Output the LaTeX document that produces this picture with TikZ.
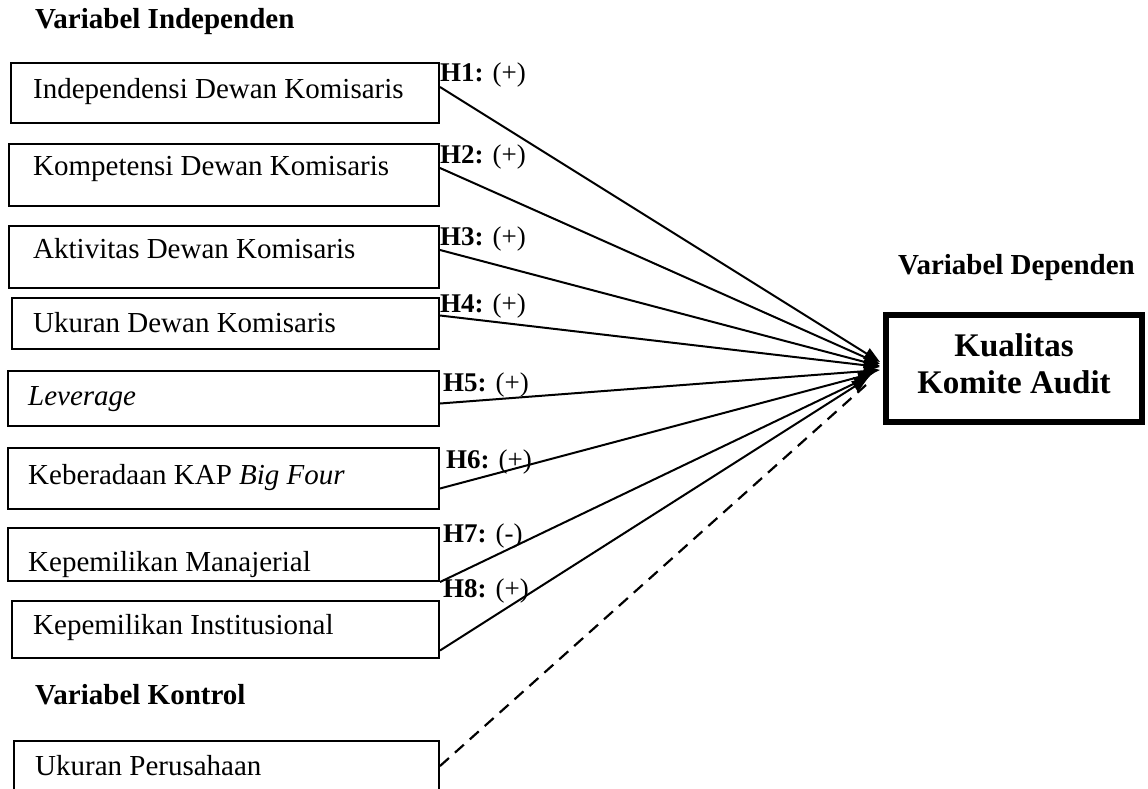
\documentclass[tikz,border=0pt]{standalone}
\usepackage{fontspec}
\setmainfont{Liberation Serif}
\usetikzlibrary{arrows.meta,calc}
\begin{document}
\begin{tikzpicture}[x=1pt,y=-1pt,
  txt/.style={font=\fontsize{29}{35}\selectfont, anchor=west, inner sep=0pt},
  hdr/.style={font=\fontsize{29}{35}\selectfont\bfseries, anchor=west, inner sep=0pt},
  varbox/.style={draw=black, line width=2pt, rectangle, anchor=north west, inner sep=0pt},
  hyp/.style={font=\fontsize{27}{30}\selectfont, anchor=west, inner sep=0pt},
  link/.style={line width=2pt, -{Triangle[length=16pt,width=12pt]}},
  ctrl/.style={line width=2.2pt, dash pattern=on 12pt off 8pt}
]
\useasboundingbox (0,0) rectangle (1148,789);
\fill[white] (0,0) rectangle (1148,789);
\begin{scope}
\clip (0,0) rectangle (1148,789);

\node[hdr] (hind) at (35,22) {Variabel Independen};
\node[hdr] (hdep) at (898,268) {Variabel Dependen};
\node[hdr] (hkon) at (35,695) {Variabel Kontrol};

% text first, boxes drawn over them
\node[txt] (t1) at (33,92) {Independensi Dewan Komisaris};
\node[txt] (t2) at (33,169) {Kompetensi Dewan Komisaris};
\node[txt] (t3) at (33,249) {Aktivitas Dewan Komisaris};
\node[txt] (t4) at (33,323) {Ukuran Dewan Komisaris};
\node[txt] (t5) at (28,399) {\itshape Leverage};
\node[txt] (t6) at (28,478) {Keberadaan KAP \textit{Big Four}};
\node[txt] (t7) at (28,565) {Kepemilikan Manajerial};
\node[txt] (t8) at (33,628) {Kepemilikan Institusional};
\node[txt] (t9) at (35,766) {Ukuran Perusahaan};

\node[varbox, minimum width=428pt, minimum height=60pt] (b1) at (10,62) {};
\node[varbox, minimum width=430pt, minimum height=62pt] (b2) at (8,143) {};
\node[varbox, minimum width=430pt, minimum height=62pt] (b3) at (8,225) {};
\node[varbox, minimum width=427pt, minimum height=51pt] (b4) at (11,297) {};
\node[varbox, minimum width=431pt, minimum height=55pt] (b5) at (7,370) {};
\node[varbox, minimum width=431pt, minimum height=61pt] (b6) at (7,447) {};
\node[varbox, minimum width=431pt, minimum height=53pt] (b7) at (7,527) {};
\fill[white] ([yshift=-1pt]b7.south west) rectangle ([yshift=-12pt]b7.south east);
\node[varbox, minimum width=427pt, minimum height=57pt] (b8) at (11,600) {};
\node[varbox, minimum width=425pt, minimum height=70pt] (b9) at (13,740) {};

% dependent box
\node[draw=black, line width=6pt, minimum width=256pt, minimum height=107pt] (dep) at (1014,368.5) {};
\node[font=\fontsize{33}{37}\selectfont\bfseries, align=center, inner sep=0pt]
      (deptext) at (1014,364) {Kualitas\\Komite Audit};
\coordinate (tgt) at (880,368);

% connectors
\draw[link] ([yshift=6pt]b1.east) -- ([yshift=6pt]tgt);
\draw[link] ([yshift=7pt]b2.east) -- ([yshift=4pt]tgt);
\draw[link] ([yshift=7pt]b3.east) -- ([yshift=2pt]tgt);
\draw[link] ([yshift=8pt]b4.east) -- ([yshift=1pt]tgt);
\draw[link] ([yshift=-5pt]b5.east) -- ([yshift=-2pt]tgt);
\draw[link] ([yshift=-10pt]b6.east) -- ([yshift=-5pt,xshift=-6pt]tgt);
\draw[link] (b7.south east) -- ([yshift=-8pt,xshift=-10pt]tgt);
\draw[link] ([yshift=-21pt]b8.east) -- ([yshift=-10pt,xshift=-12pt]tgt);
\draw[ctrl] ([yshift=-26pt]b9.north east) -- ([yshift=-17pt,xshift=-14pt]tgt);

% hypothesis labels
\node[hyp] (l1) at (440,75) {\textbf{H1:} (+)};
\node[hyp] (l2) at (440,157) {\textbf{H2:} (+)};
\node[hyp] (l3) at (440,239) {\textbf{H3:} (+)};
\node[hyp] (l4) at (440,306) {\textbf{H4:} (+)};
\node[hyp] (l5) at (443,385) {\textbf{H5:} (+)};
\node[hyp] (l6) at (446,462) {\textbf{H6:} (+)};
\node[hyp] (l7) at (443,536) {\textbf{H7:} (-)};
\node[hyp] (l8) at (443,591) {\textbf{H8:} (+)};
\end{scope}
\end{tikzpicture}
\end{document}
